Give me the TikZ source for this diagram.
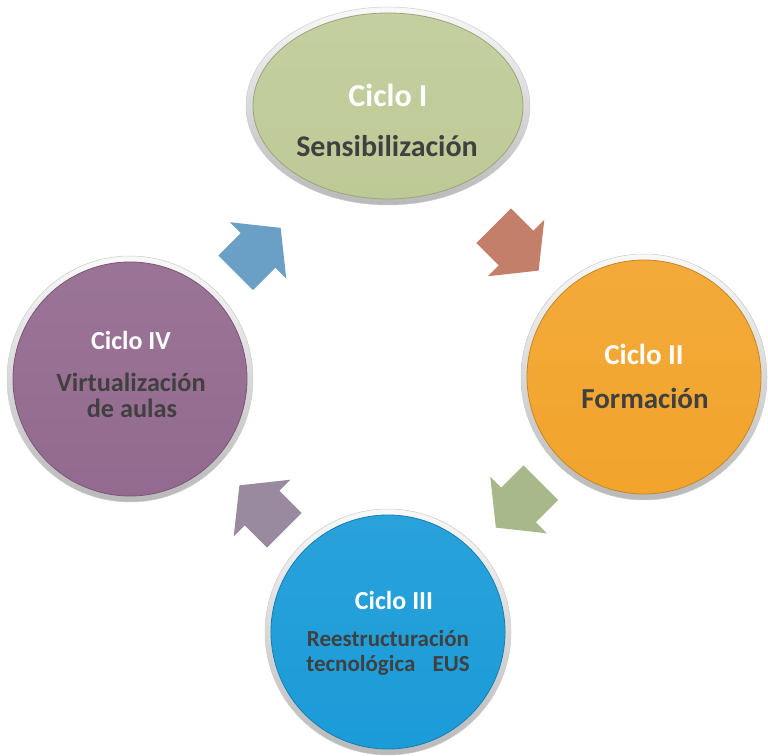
\documentclass[tikz,border=0pt]{standalone}
\usepackage{fontspec}
\setmainfont{Carlito}
\usetikzlibrary{shapes}

\definecolor{verde}{HTML}{BDC995}
\definecolor{naranja}{HTML}{F2A42C}
\definecolor{azul}{HTML}{1A9BD8}
\definecolor{morado}{HTML}{936A8F}
\definecolor{flechaI}{HTML}{C47F6B}
\definecolor{flechaII}{HTML}{A8B88A}
\definecolor{flechaIII}{HTML}{9A8AA0}
\definecolor{flechaIV}{HTML}{6AA0C5}
\definecolor{gristexto}{HTML}{404040}

\tikzset{
  anillo/.style={inner sep=0pt, top color=gray!5, bottom color=gray!55, draw=gray!40, line width=0.5pt},
  ciclo/.style={circle, minimum size=246pt, anillo,
    path picture={\path[top color=#1!93!white, bottom color=#1, draw=#1!82!black, line width=0.8pt]
      (path picture bounding box.center) circle (117pt);}},
  cicloeli/.style={ellipse, minimum width=284pt, minimum height=198pt, anillo,
    path picture={\path[top color=#1!88!white, bottom color=#1, draw=#1!82!black, line width=0.8pt]
      (path picture bounding box.center) ellipse [x radius=135pt, y radius=93pt];}},
  titulo/.style={anchor=base, inner sep=0pt, text=white, font=\bfseries\fontsize{#1}{#1}\selectfont},
  texto/.style={anchor=base, inner sep=0pt, text=gristexto, font=\bfseries\fontsize{#1}{#1}\selectfont},
}

% flecha de bloque: posicion, angulo, color
\newcommand{\flecha}[3]{%
  \fill[#3, shift={(#1)}, rotate=#2] (-31.5,24.5) -- (0,24.5) -- (0,40) -- (32,0)
    -- (0,-40) -- (0,-24.5) -- (-31.5,-24.5) -- cycle;}

\begin{document}
\begin{tikzpicture}[x=1pt, y=1pt]
  \useasboundingbox (0,0) rectangle (768,755);

  \node[cicloeli=verde] (c1) at (388,649) {};
  \node[ciclo=naranja] (c2) at (644,378) {};
  \node[ciclo=azul] (c3) at (388,123) {};
  \node[ciclo=morado] (c4) at (130,376) {};

  \node[titulo=32] (t1) at ([yshift=-1pt]c1.center) {Ciclo I};
  \node[texto=30] (s1) at ([xshift=-1pt, yshift=-51pt]c1.center) {Sensibilización};

  \node[titulo=29] (t2) at ([yshift=12pt]c2.center) {Ciclo II};
  \node[texto=29] (s2) at ([xshift=1pt, yshift=-32pt]c2.center) {Formación};

  \node[titulo=26] (t3) at ([xshift=6pt, yshift=22pt]c3.center) {Ciclo III};
  \node[texto=23] (s3) at ([yshift=-15pt]c3.center) {Reestructuración};
  \node[texto=23] (u3) at ([yshift=-39.5pt]c3.center) {tecnológica\hspace{0.75em}EUS};

  \node[titulo=26] (t4) at ([xshift=1pt, yshift=29pt]c4.center) {Ciclo IV};
  \node[texto=26.3] (s4) at ([xshift=1pt, yshift=-12.7pt]c4.center) {Virtualización};
  \node[texto=26.3] (u4) at ([xshift=2pt, yshift=-39pt]c4.center) {de aulas};

  \coordinate (f12) at (516,507);
  \coordinate (f23) at (518.5,250);
  \coordinate (f34) at (262,247);
  \coordinate (f41) at (258,504.5);

  \flecha{f12}{-45}{flechaI}
  \flecha{f23}{-135}{flechaII}
  \flecha{f34}{135}{flechaIII}
  \flecha{f41}{45}{flechaIV}
\end{tikzpicture}
\end{document}
